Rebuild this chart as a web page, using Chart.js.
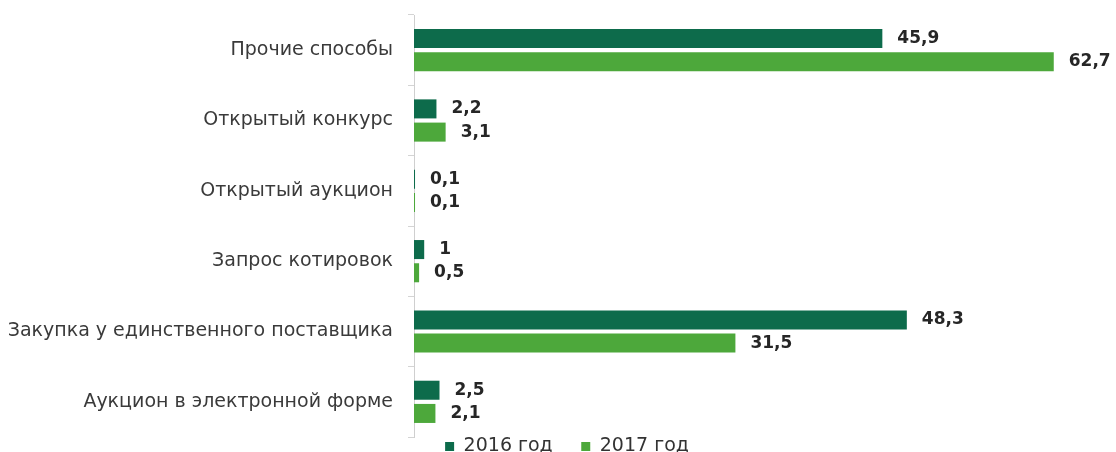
<!DOCTYPE html>
<html>
<head>
<meta charset="utf-8">
<script src="https://cdn.jsdelivr.net/npm/chart.js@4/dist/chart.umd.min.js"></script>
<style>
  html, body { margin: 0; padding: 0; background: #fff; overflow: hidden; }
  #wrap { width: 1116px; height: 466px; }
</style>
</head>
<body>
<div id="wrap"><canvas id="procChart" width="1116" height="466"></canvas></div>
<script>
// categories, top to bottom
const categories = [
    'Прочие способы',
    'Открытый конкурс',
    'Открытый аукцион',
    'Запрос котировок',
    'Закупка у единственного поставщика',
    'Аукцион в электронной форме'
];
const seriesNames = ['2016 год', '2017 год'];
const values2016 = [45.9, 2.2, 0.1, 1, 48.3, 2.5];
const values2017 = [62.7, 3.1, 0.1, 0.5, 31.5, 2.1];

const darkGreen = '#0d6b4b';
const lightGreen = '#4da83b';

// value labels to the right of each bar
const barValueLabels = {
    id: 'barValueLabels',
    afterDatasetsDraw(chart) {
        const ctx = chart.ctx;
        ctx.save();
        ctx.font = 'bold 17px "DejaVu Sans"';
        ctx.fillStyle = '#262626';
        ctx.textAlign = 'left';
        ctx.textBaseline = 'middle';
        chart.data.datasets.forEach((ds, di) => {
            chart.getDatasetMeta(di).data.forEach((bar, i) => {
                const txt = String(ds.data[i]).replace('.', ',');
                ctx.fillText(txt, bar.x + 15, bar.y);
            });
        });
        ctx.restore();
    }
};

new Chart(document.getElementById('procChart'), {
    type: 'bar',
    data: {
        labels: categories,
        datasets: [
            {
                label: seriesNames[0],
                data: values2016,
                backgroundColor: darkGreen,
                barPercentage: 0.82,
                categoryPercentage: 0.66
            },
            {
                label: seriesNames[1],
                data: values2017,
                backgroundColor: lightGreen,
                barPercentage: 0.82,
                categoryPercentage: 0.66
            }
        ]
    },
    options: {
        indexAxis: 'y',
        responsive: false,
        animation: false,
        // negative right padding nudges the centred legend to the right
        layout: { padding: { top: 15, right: -18, left: 0, bottom: 0 } },
        scales: {
            x: {
                display: false,
                min: 0,
                max: 68.8
            },
            y: {
                afterFit(scale) {
                    // keep axis where the original has it
                    scale.width = 414;
                    scale.paddingTop = 0;
                    scale.paddingBottom = 0;
                },
                grid: {
                    drawOnChartArea: false,
                    drawTicks: true,
                    tickLength: 6,
                    color: '#d4d4d4'
                },
                border: { display: true, color: '#cfcfcf' },
                ticks: {
                    padding: 15,
                    color: '#3a3a3a',
                    font: { family: '"DejaVu Sans"', size: 19 }
                }
            }
        },
        plugins: {
            legend: {
                position: 'bottom',
                labels: {
                    boxWidth: 9,
                    boxHeight: 9,
                    padding: 0,
                    color: '#333',
                    font: { family: '"DejaVu Sans"', size: 19 },
                    generateLabels(chart) {
                        const items = Chart.defaults.plugins.legend.labels.generateLabels(chart);
                        // wider gap between the two legend entries
                        items[0].text = items[0].text + '\u2003\u2002';
                        return items;
                    }
                }
            },
            tooltip: { enabled: false }
        }
    },
    plugins: [barValueLabels]
});
</script>
</body>
</html>
